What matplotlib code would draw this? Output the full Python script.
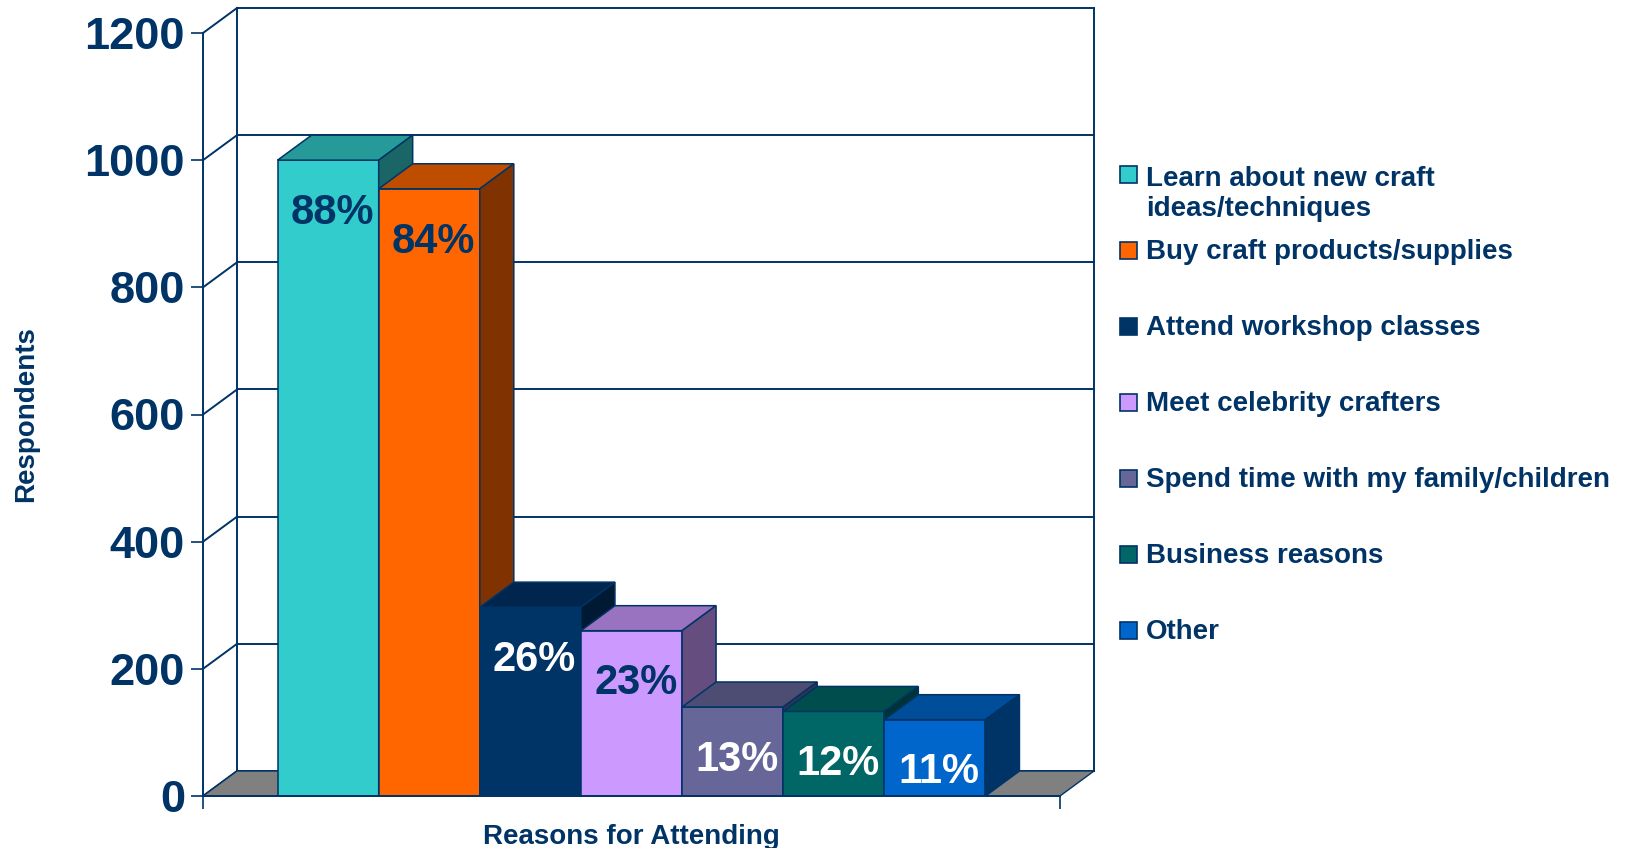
import matplotlib
matplotlib.use('Agg')
import matplotlib.pyplot as plt
from matplotlib.patches import Polygon, Rectangle
from matplotlib.colors import to_rgb

plt.rcParams['font.family'] = ['Liberation Sans', 'DejaVu Sans']
plt.rcParams['font.weight'] = 'bold'

# survey results: reasons for attending the craft show
reasons = ['Learn about new craft\nideas/techniques', 'Buy craft products/supplies',
           'Attend workshop classes', 'Meet celebrity crafters',
           'Spend time with my family/children', 'Business reasons', 'Other']
respondents = [1000, 955, 297, 260, 140, 133, 120]
pct_labels = ['88%', '84%', '26%', '23%', '13%', '12%', '11%']
bar_colors = ['#33CCCC', '#FF6600', '#003366', '#CC99FF', '#666699', '#006666', '#0066CC']
pct_colors = ['#003366', '#003366', 'white', '#003366', 'white', 'white', 'white']
y_ticks = [0, 200, 400, 600, 800, 1000, 1200]

NAVY = '#003366'
W, H = 1630, 848

fig = plt.figure(figsize=(W / 100, H / 100), dpi=100)
# front plane of the 3-D box, in pixels: x 203..1060, y 796 (0) .. 33 (1200)
ax = fig.add_axes([203 / W, 1 - 796 / H, 857 / W, 763 / H])
ax.set_xlim(-0.5, 0.5)
ax.set_ylim(0, 1200)

# depth of the box, converted from pixels to data units
DX = 34 / 857
DY = 25 * 1200 / 763
bw = 0.118


def shade(c, f):
    r, g, b = to_rgb(c)
    return (r * f, g * f, b * f)


wall = dict(color=NAVY, lw=1.4, clip_on=False, zorder=1)
# back wall, gridlines and left wall
for v in y_ticks:
    ax.plot([-0.5 + DX, 0.5 + DX], [v + DY, v + DY], **wall)
    ax.plot([-0.5, -0.5 + DX], [v, v + DY], **wall)
ax.plot([-0.5 + DX, -0.5 + DX], [DY, 1200 + DY], **wall)
ax.plot([0.5 + DX, 0.5 + DX], [DY, 1200 + DY], **wall)

# floor
ax.add_patch(Polygon([(-0.5, 0), (0.5, 0), (0.5 + DX, DY), (-0.5 + DX, DY)],
                     closed=True, facecolor='#808080', edgecolor=NAVY, lw=1.0,
                     clip_on=False, zorder=2))

xs = [(i - 3) * bw for i in range(len(respondents))]
for i, (x, v, c) in enumerate(zip(xs, respondents, bar_colors)):
    x0, x1 = x - bw / 2, x + bw / 2
    z = 3 + i
    ax.bar(x, v, width=bw, color=c, edgecolor=NAVY, linewidth=1.1, zorder=z)
    ax.add_patch(Polygon([(x0, v), (x1, v), (x1 + DX, v + DY), (x0 + DX, v + DY)],
                         closed=True, facecolor=shade(c, 0.75), edgecolor=NAVY,
                         lw=1.1, clip_on=False, zorder=z))
    ax.add_patch(Polygon([(x1, 0), (x1 + DX, DY), (x1 + DX, v + DY), (x1, v)],
                         closed=True, facecolor=shade(c, 0.5), edgecolor=NAVY,
                         lw=1.1, clip_on=False, zorder=z))
    ax.annotate(pct_labels[i], xy=(x, v), xytext=(3, -38), textcoords='offset points',
                ha='center', va='center', fontsize=30, fontweight='bold',
                color=pct_colors[i], zorder=20)

# axes
for s in ['top', 'right']:
    ax.spines[s].set_visible(False)
for s in ['left', 'bottom']:
    ax.spines[s].set_color(NAVY)
    ax.spines[s].set_linewidth(1.4)
    ax.spines[s].set_zorder(15)
ax.set_yticks(y_ticks)
ax.set_yticklabels([str(t) for t in y_ticks])
ax.tick_params(axis='y', direction='out', length=9, width=1.2, color=NAVY,
               labelcolor=NAVY, labelsize=32.5, pad=4)
ax.set_xticks([-0.5, 0.5])
ax.set_xticklabels(['', ''])
ax.tick_params(axis='x', direction='out', length=9, width=1.2, color=NAVY)
for lab in ax.get_yticklabels():
    lab.set_fontweight('bold')

ax.set_xlabel('Reasons for Attending', fontsize=20, fontweight='bold', color=NAVY,
              labelpad=8)
fig.text(26 / W, 1 - 414 / H, 'Respondents', rotation=90, ha='center', va='center',
         fontsize=20, fontweight='bold', color=NAVY)

# legend: one square per series, text baseline tied to the first line
line_px = 20 * 1.2 * 100 / 72
for i, (lab, c) in enumerate(zip(reasons, bar_colors)):
    yc = 174 + i * 76
    fig.add_artist(Rectangle((1120 / W, 1 - (yc + 8.5) / H), 17 / W, 17 / H,
                             transform=fig.transFigure, facecolor=c,
                             edgecolor=NAVY, lw=1.2))
    extra = lab.count('\n') * line_px
    fig.text(1146 / W, 1 - (yc + 9 + extra) / H, lab, ha='left', va='baseline',
             fontsize=20, fontweight='bold', color=NAVY, linespacing=1.2)

fig.savefig('out.png', dpi=100)
